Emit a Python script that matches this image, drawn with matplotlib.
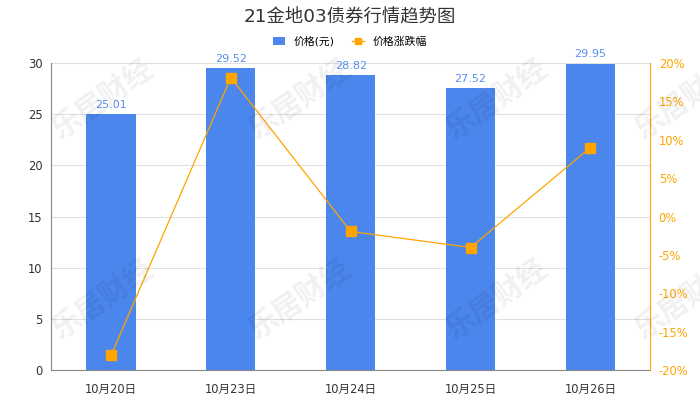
import matplotlib
matplotlib.use("Agg")
import matplotlib.pyplot as plt
from matplotlib.lines import Line2D
from matplotlib.patches import Patch

plt.rcParams['font.family'] = ['DejaVu Sans', 'Noto Sans CJK SC']

dates = ["10月20日", "10月23日", "10月24日", "10月25日", "10月26日"]
prices = [25.01, 29.52, 28.82, 27.52, 29.95]
changes = [-18.1, 18.1, -1.95, -4.04, 8.99]   # 价格涨跌幅, %

bar_color = "#4a86ec"
line_color = "#ffa500"
text_color = "#333333"

fig = plt.figure(figsize=(7, 4), dpi=100)
ax = fig.add_axes([0.073, 0.075, 0.856, 0.7675])
ax2 = ax.twinx()

x = list(range(len(dates)))
ax.bar(x, prices, width=0.41, color=bar_color, zorder=2)
for xi, v in zip(x, prices):
    ax.text(xi, v + 0.4, f"{v:.2f}", ha="center", va="bottom",
            fontsize=8, color="#5b8ff0", zorder=5)

ax.set_xlim(-0.5, len(dates) - 0.5)
ax.set_ylim(0, 30)
ax.set_yticks(range(0, 31, 5))
ax.set_xticks(x)
ax.set_xticklabels(dates)
ax.grid(axis="y", color="#e0e0e0", linewidth=0.8, zorder=0)
ax.set_axisbelow(True)
ax.tick_params(axis="both", length=0, labelsize=8.3, colors=text_color, pad=6)
ax.tick_params(axis="x", pad=9)
for s in ["top", "right"]:
    ax.spines[s].set_visible(False)
ax.spines["left"].set_color("#888888")
ax.spines["bottom"].set_color("#888888")

ax2.plot(x, changes, color=line_color, linewidth=0.9, marker="s",
         markersize=6.5, zorder=4)
ax2.set_ylim(-20, 20)
ax2.set_yticks(range(-20, 21, 5))
ax2.set_yticklabels([f"{t}%" for t in range(-20, 21, 5)])
ax2.tick_params(axis="y", length=0, labelsize=8.3, colors=line_color, pad=6)
for s in ["top", "left", "bottom"]:
    ax2.spines[s].set_visible(False)
ax2.spines["right"].set_color(line_color)

# watermark (cut off at the right edge, as in the original)
for wx in [103, 300, 497, 686]:
    for wy in [100, 300]:
        fig.text(wx / 700, 1 - wy / 400, "乐居财经", fontsize=21, fontweight="bold",
                 color="#000000", alpha=0.06, rotation=35, ha="center", va="center",
                 family="Noto Sans CJK SC", zorder=10)

fig.text(0.5, 0.957, "21金地03债券行情趋势图", ha="center", va="center",
         fontsize=13.2, color=text_color)

handles = [
    Patch(facecolor=bar_color, label="价格(元)"),
    Line2D([0], [0], color=line_color, marker="s", markersize=5, linewidth=1,
           label="价格涨跌幅"),
]
fig.legend(handles=handles, loc="center", bbox_to_anchor=(0.5, 0.897), ncol=2,
           frameon=False, fontsize=7.8, handlelength=1.1, handleheight=0.8,
           columnspacing=1.6, handletextpad=0.8)

fig.savefig("out.png", dpi=100)
